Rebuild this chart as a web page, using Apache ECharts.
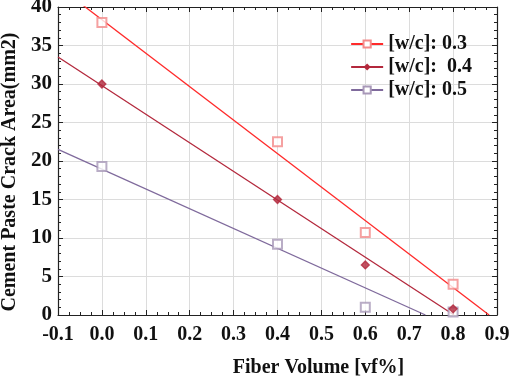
<!DOCTYPE html>
<html>
<head>
<meta charset="utf-8">
<script src="https://cdn.jsdelivr.net/npm/echarts@6/dist/echarts.min.js"></script>
<style>
html, body { margin: 0; padding: 0; background: #fff; }
#chart { width: 512px; height: 378px; }
</style>
</head>
<body>
<div id="chart"></div>
<script>
var seriesNames = ['[w/c]: 0.3', '[w/c]:  0.4', '[w/c]: 0.5'];
var fiber = [0, 0.4, 0.6, 0.8];
var wc03 = [38, 22.5, 10.7, 4];
var wc04 = [30, 15, 6.5, 0.8];
var wc05 = [19.3, 9.2, 1.0, 0.4];
// fitted lines, endpoints ([x, y])
var fit03 = [[-0.1, 42.7], [0.882, 0]];
var fit04 = [[-0.1, 33.5], [0.802, 0]];
var fit05 = [[-0.1, 21.5], [0.737, 0]];

var lineColors = ['#ff2a2a', '#b3283c', '#7f6a9c'];
var markColors = ['#f38a8a', '#b3283c', '#a898b8'];
var symbols = ['emptyRect', 'diamond', 'emptyRect'];

var pairs = function (xs, ys) {
    var out = [];
    xs.forEach(function (x, i) {
        out.push([x, ys[i]]);
    });
    return out;
};

var fonts = '"Liberation Serif", "DejaVu Serif", serif';
var points = [wc03, wc04, wc05];
var fits = [fit03, fit04, fit05];

var series = [];
fits.forEach(function (fit, i) {
    series.push({
        name: seriesNames[i],
        type: 'line',
        data: fit,
        symbol: symbols[i],
        symbolSize: 9,
        showSymbol: false,
        lineStyle: { color: lineColors[i], width: 1.3 },
        itemStyle: { color: markColors[i], borderWidth: 1.3 },
        clip: true,
        silent: true,
        z: 2
    });
});
points.forEach(function (ys, i) {
    series.push({
        name: seriesNames[i],
        type: 'scatter',
        data: pairs(fiber, ys),
        symbol: symbols[i],
        symbolSize: i === 1 ? 8 : 9,
        itemStyle: { color: markColors[i], borderColor: markColors[i], borderWidth: 1.3 },
        z: i === 1 ? 4 : 3
    });
});

var tickStyle = { color: '#222' };
var chart = echarts.init(document.getElementById('chart'));
chart.setOption({
    backgroundColor: '#fff',
    animation: false,
    grid: { left: 58, right: 15, top: 7, bottom: 63, outerBoundsMode: 'none' },
    legend: {
        data: seriesNames,
        orient: 'vertical',
        right: 35,
        top: 29,
        itemGap: 3,
        itemWidth: 32,
        itemHeight: 9,
        textStyle: { fontFamily: fonts, fontWeight: 'bold', fontSize: 20, color: '#111' }
    },
    xAxis: [{
        type: 'value',
        min: -0.1,
        max: 0.9,
        interval: 0.1,
        name: 'Fiber Volume [vf%]',
        nameLocation: 'middle',
        nameGap: 43,
        nameTextStyle: { fontFamily: fonts, fontWeight: 'bold', fontSize: 20, color: '#111', padding: [0, 0, 0, 82] },
        axisLine: { onZero: false, lineStyle: { color: '#222', width: 1.2 } },
        axisTick: { inside: true, length: 5, lineStyle: tickStyle },
        minorTick: { show: true, splitNumber: 4, length: 3, lineStyle: tickStyle },
        splitLine: { show: true, lineStyle: { color: '#dcdcdc' } },
        axisLabel: {
            fontFamily: fonts, fontWeight: 'bold', fontSize: 20, color: '#111', margin: 10,
            formatter: function (v) { return v.toFixed(1); }
        }
    }, {
        type: 'value',
        position: 'top',
        min: -0.1,
        max: 0.9,
        interval: 0.1,
        axisLine: { show: true, onZero: false, lineStyle: { color: '#222', width: 1.2 } },
        axisTick: { inside: true, length: 5, lineStyle: tickStyle },
        minorTick: { show: true, splitNumber: 4, length: 3, lineStyle: tickStyle },
        splitLine: { show: false },
        axisLabel: { show: false }
    }],
    yAxis: [{
        type: 'value',
        min: 0,
        max: 40,
        interval: 5,
        name: 'Cement Paste Crack Area(mm2)',
        nameLocation: 'middle',
        nameGap: 38,
        nameTextStyle: { fontFamily: fonts, fontWeight: 'bold', fontSize: 20, color: '#111', padding: [0, 22, 0, 0] },
        axisLine: { onZero: false, lineStyle: { color: '#222', width: 1.2 } },
        axisTick: { inside: true, length: 5, lineStyle: tickStyle },
        minorTick: { show: true, splitNumber: 5, length: 3, lineStyle: tickStyle },
        splitLine: { show: true, lineStyle: { color: '#dcdcdc' } },
        axisLabel: { fontFamily: fonts, fontWeight: 'bold', fontSize: 21, color: '#111', margin: 6 }
    }, {
        type: 'value',
        position: 'right',
        min: 0,
        max: 40,
        interval: 5,
        axisLine: { show: true, onZero: false, lineStyle: { color: '#222', width: 1.2 } },
        axisTick: { inside: true, length: 5, lineStyle: tickStyle },
        minorTick: { show: true, splitNumber: 5, length: 3, lineStyle: tickStyle },
        splitLine: { show: false },
        axisLabel: { show: false }
    }],
    series: series
});
</script>
</body>
</html>
